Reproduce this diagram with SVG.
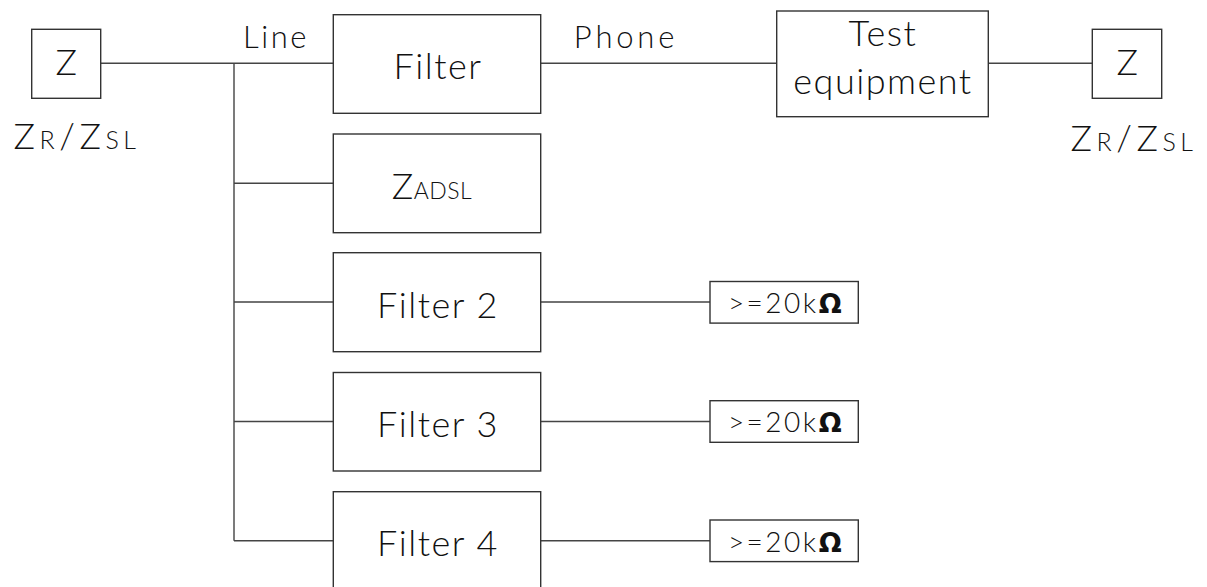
<svg xmlns="http://www.w3.org/2000/svg" width="1207" height="587" viewBox="0 0 1207 587">
<style>
.box{fill:#fff;stroke:#333;stroke-width:1.4}
.wire{fill:none;stroke:#444;stroke-width:1.4}
.t{font-family:Lato,"Liberation Sans",sans-serif;font-weight:300;fill:#111;text-anchor:middle;letter-spacing:1.5px}
.big{font-size:36px}
.lbl{font-size:31px;letter-spacing:2.5px}
.ph{letter-spacing:3.8px}
.sub{font-size:25px}
.zr{font-size:36px;letter-spacing:4.5px}
.zad{letter-spacing:0.5px}
.res{font-size:28px;letter-spacing:2.5px}
.om{font-family:"DejaVu Sans","Liberation Sans",sans-serif;font-weight:bold;font-size:27px}
</style>
<rect width="1207" height="587" fill="#fff"/>
<g id="connectors">
<path class="wire" d="M100.7 63.3H333.3M234 63.3V540.7M234 183.3H333.3M234 302H333.3M234 421.5H333.3M234 540.7H333.3"/>
<path class="wire" d="M540.7 63.3H776.7M988.3 63.3H1092.3"/>
<path class="wire" d="M540.7 302H710M540.7 421.5H710M540.7 540.7H710"/>
</g>
<text class="t lbl" x="276" y="48">Line</text>
<text class="t lbl ph" x="626" y="48">Phone</text>
<g id="zleft">
<rect class="box" x="31.7" y="29.3" width="69" height="69"/>
<text class="t big" x="67" y="75">Z</text>
<text class="t zr" x="77" y="149">Z<tspan class="sub">R</tspan>/Z<tspan class="sub">SL</tspan></text>
</g>
<g id="filter1">
<rect class="box" x="333.3" y="14.7" width="207.4" height="98.6"/>
<text class="t big" x="438" y="79">Filter</text>
</g>
<g id="zadsl">
<rect class="box" x="333.3" y="134" width="207.4" height="98.7"/>
<text class="t big zad" x="432" y="199">Z<tspan style="font-size:23px">ADSL</tspan></text>
</g>
<g id="filter2">
<rect class="box" x="333.3" y="252.7" width="207.4" height="99"/>
<text class="t big" x="438" y="318">Filter 2</text>
</g>
<g id="filter3">
<rect class="box" x="333.3" y="372.5" width="207.4" height="98.5"/>
<text class="t big" x="438" y="437">Filter 3</text>
</g>
<g id="filter4">
<rect class="box" x="333.3" y="491.7" width="207.4" height="110"/>
<text class="t big" x="438" y="556">Filter 4</text>
</g>
<g id="test">
<rect class="box" x="776.7" y="11" width="211.6" height="105.7"/>
<text class="t big" x="883" y="46">Test</text>
<text class="t big" x="883" y="94">equipment</text>
</g>
<g id="zright">
<rect class="box" x="1092.3" y="29.3" width="69.4" height="69"/>
<text class="t big" x="1128" y="75">Z</text>
<text class="t zr" x="1134" y="151">Z<tspan class="sub">R</tspan>/Z<tspan class="sub">SL</tspan></text>
</g>
<g id="r2">
<rect class="box" x="710" y="281.5" width="148.3" height="41.6"/>
<text class="t res" x="786" y="313">&gt;=20k<tspan class="om">Ω</tspan></text>
</g>
<g id="r3">
<rect class="box" x="710" y="400.7" width="148.3" height="41.6"/>
<text class="t res" x="786" y="432">&gt;=20k<tspan class="om">Ω</tspan></text>
</g>
<g id="r4">
<rect class="box" x="710" y="520" width="148.3" height="41.6"/>
<text class="t res" x="786" y="552">&gt;=20k<tspan class="om">Ω</tspan></text>
</g>
</svg>
